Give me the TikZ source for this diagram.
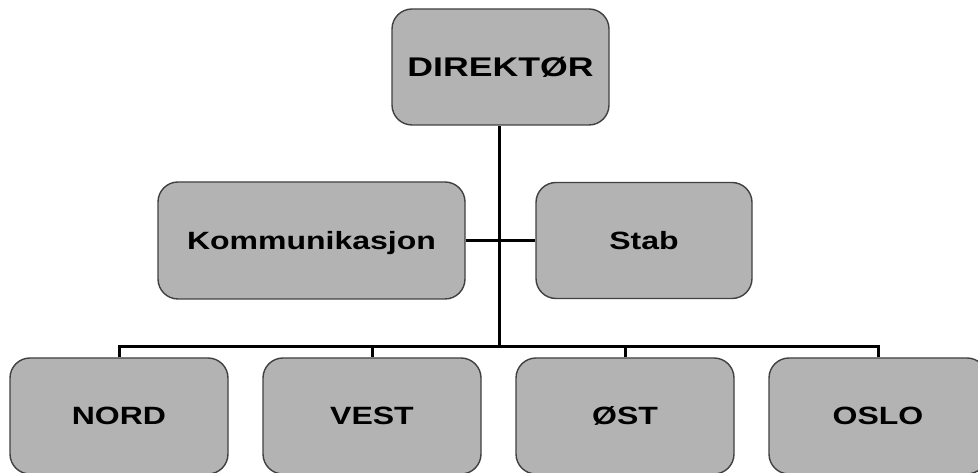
\documentclass[tikz,border=0pt]{standalone}
\usepackage{fontspec}
\setmainfont{Liberation Sans}
\definecolor{boxfill}{HTML}{B3B3B3}
\definecolor{boxline}{HTML}{404040}
\begin{document}
\begin{tikzpicture}[x=1pt,y=1pt,
  unit/.style={draw=boxline, line width=1.4pt, fill=boxfill, rounded corners=20pt,
    inner sep=0pt, minimum width=217pt, minimum height=116pt,
    font=\fontsize{25}{25}\selectfont\bfseries, text height=18pt, text depth=0pt},
  conn/.style={draw=black, line width=3pt}]
\useasboundingbox (0,0) rectangle (978,473);
\clip (0,0) rectangle (978,473);

% connectors (drawn first, boxes cover their ends)
\coordinate (bus) at (499,126);

% top level
\node[unit, font=\fontsize{27}{27}\selectfont\bfseries, text height=19pt] (dir) at (500.5,406) {\scalebox{1.32}[1]{DIREKTØR}};

% staff level
\node[unit, minimum width=307pt, minimum height=117pt] (kom) at (311.5,232.5) {\scalebox{1.28}[1]{Kommunikasjon}};
\node[unit, minimum width=216pt] (stab) at (644,232.5) {\scalebox{1.28}[1]{Stab}};

% regions
\node[unit, minimum width=218pt] (nord) at (119,57) {\scalebox{1.28}[1]{NORD}};
\node[unit, minimum width=218pt] (vest) at (372,57) {\scalebox{1.28}[1]{VEST}};
\node[unit, minimum width=218pt] (ost)  at (625,57) {\scalebox{1.28}[1]{ØST}};
\node[unit, minimum width=218pt] (oslo) at (878,57) {\scalebox{1.28}[1]{OSLO}};

\draw[conn] (kom.east) -- (stab.west);
\draw[conn] (dir.south -| bus) -- (bus);
\draw[conn] (nord.north) |- (oslo.north |- bus) -- (oslo.north);
\draw[conn] (vest.north) -- (vest.north |- bus);
\draw[conn] (ost.north) -- (ost.north |- bus);
\end{tikzpicture}
\end{document}
